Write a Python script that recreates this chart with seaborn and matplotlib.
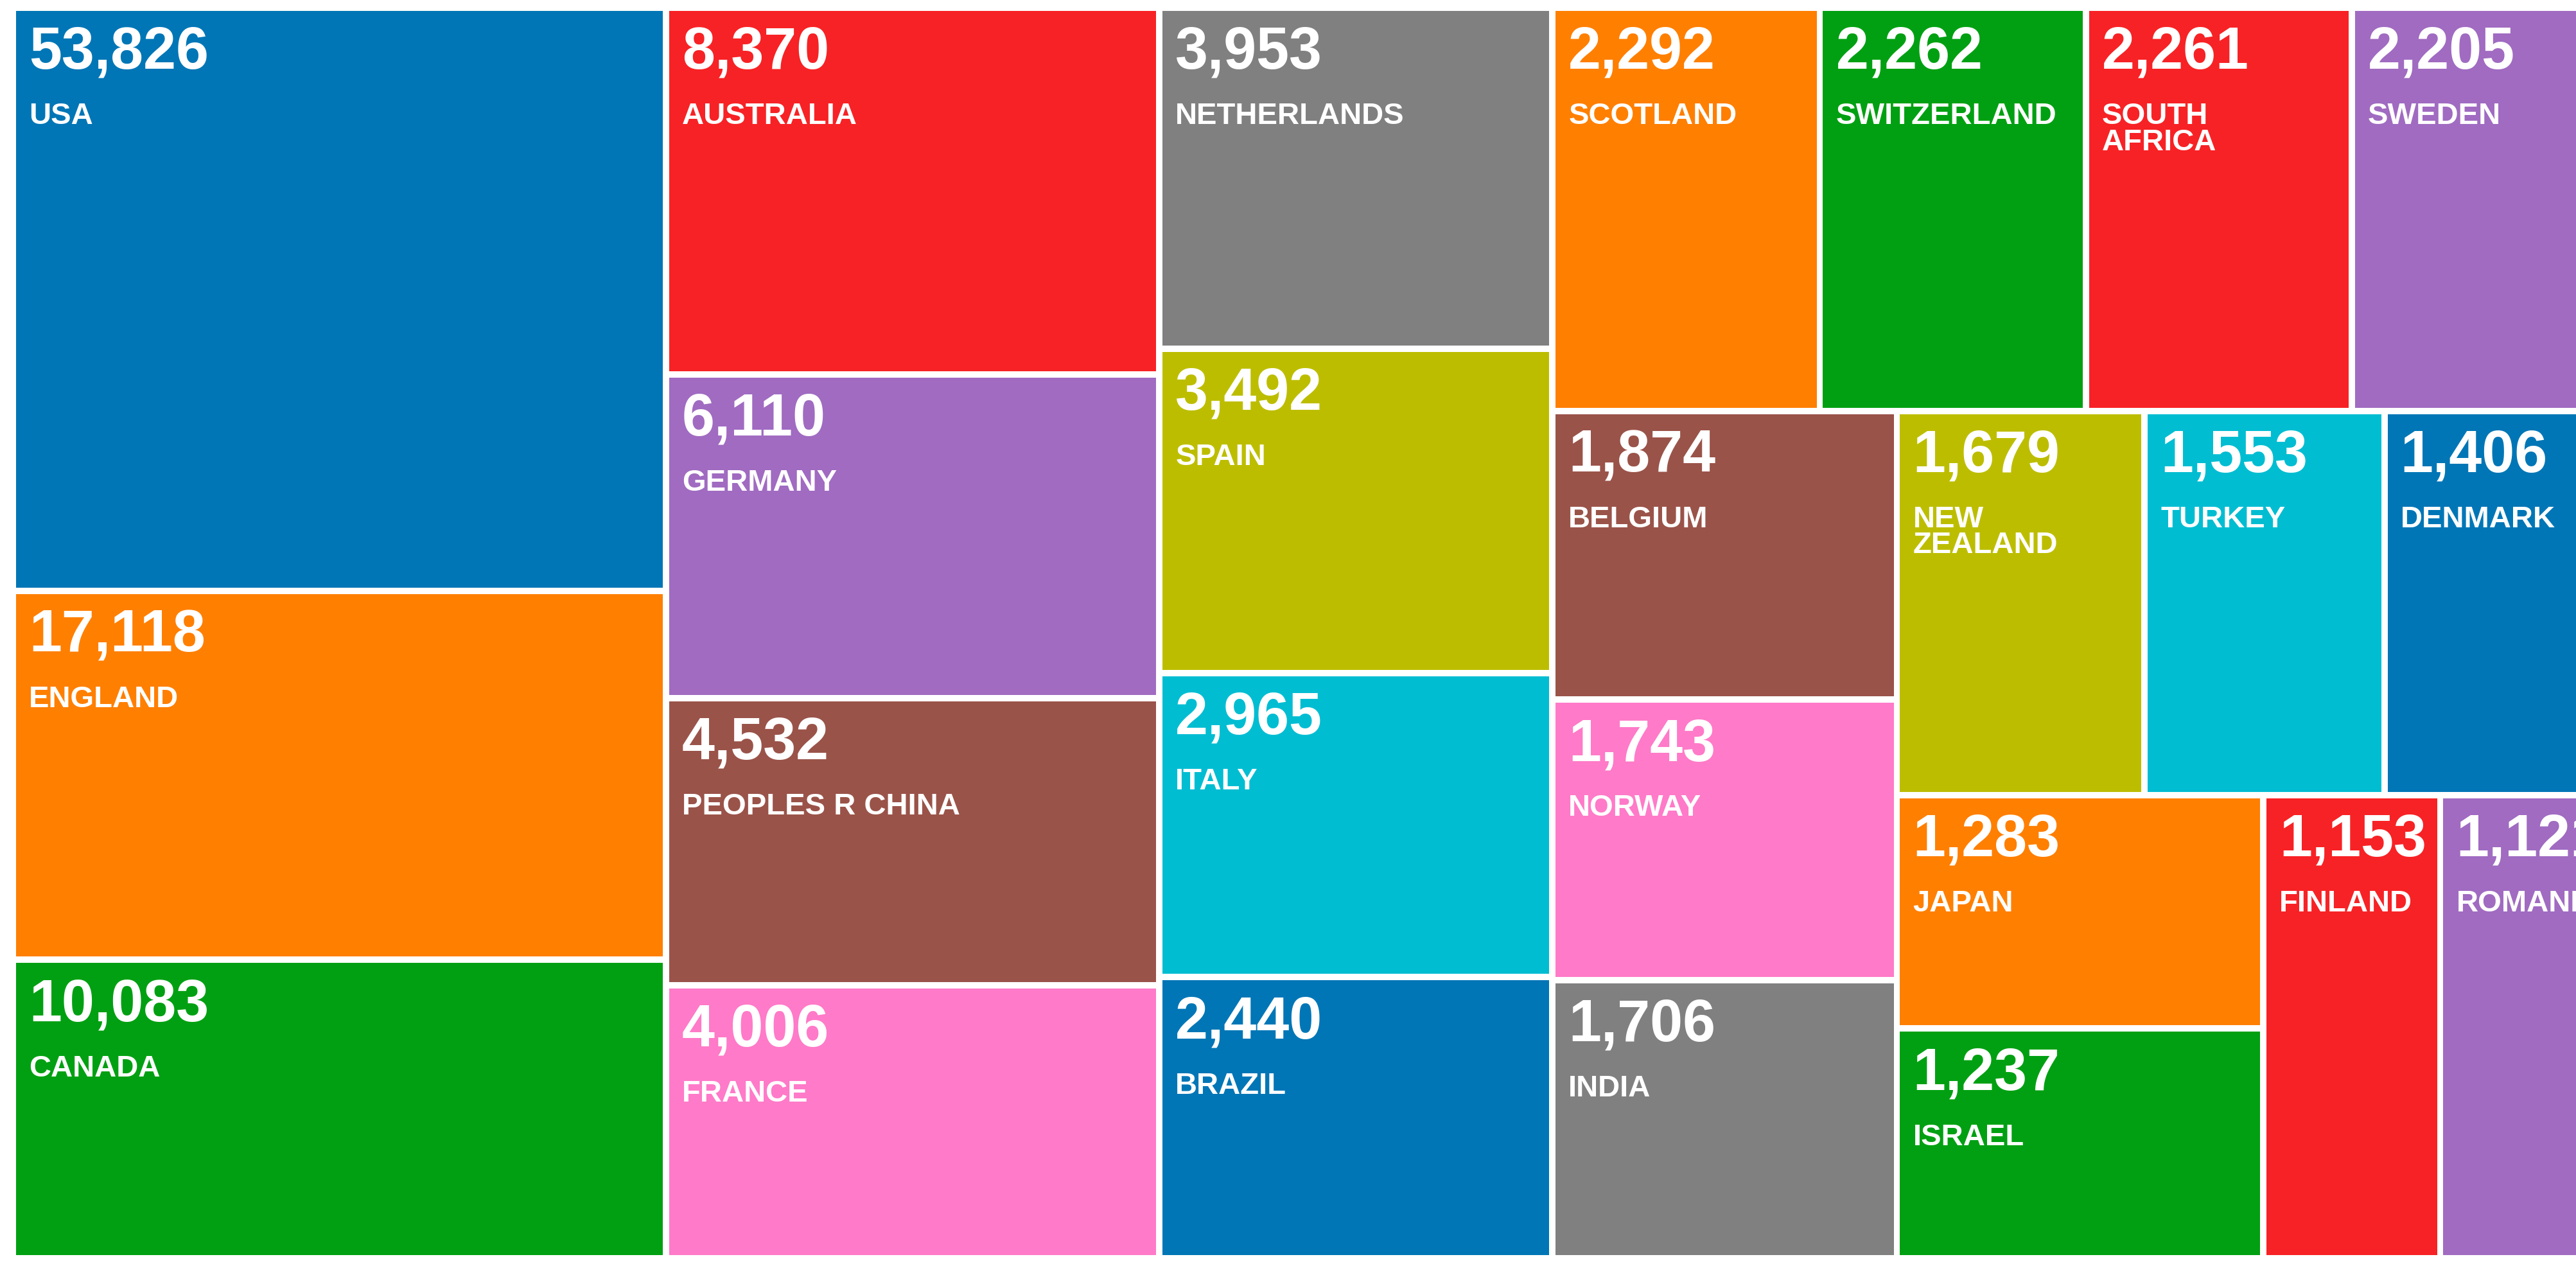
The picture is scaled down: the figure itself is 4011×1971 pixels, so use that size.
import matplotlib
matplotlib.use("Agg")
import matplotlib.pyplot as plt
import matplotlib.patches as mpatches
import seaborn as sns

countries = ["USA", "ENGLAND", "CANADA", "AUSTRALIA", "GERMANY", "PEOPLES R CHINA", "FRANCE",
             "NETHERLANDS", "SPAIN", "ITALY", "BRAZIL", "SCOTLAND", "SWITZERLAND", "SOUTH\nAFRICA",
             "SWEDEN", "BELGIUM", "NORWAY", "INDIA", "NEW\nZEALAND", "TURKEY", "DENMARK", "JAPAN",
             "ISRAEL", "FINLAND", "ROMANIA"]
values = [53826, 17118, 10083, 8370, 6110, 4532, 4006, 3953, 3492, 2965, 2440, 2292, 2262, 2261,
          2205, 1874, 1743, 1706, 1679, 1553, 1406, 1283, 1237, 1153, 1121]
base_colors = ["#0076b6", "#ff7f00", "#00a012", "#f72225", "#a06bc1",
               "#9a5349", "#ff7ac8", "#808080", "#bdbd00", "#00bdd2"]

sns.set_theme(style="white")
plt.rcParams['font.family'] = ['Liberation Sans', 'DejaVu Sans']
palette = sns.color_palette(base_colors)
w = {c: v ** 0.40 for c, v in zip(countries, values)}

C = countries
tree = ('h', [('v', C[0:3]), ('v', C[3:7]), ('v', C[7:11]),
              ('v', [('h', C[11:15]),
                     ('h', [('v', C[15:18]),
                            ('v', [('h', C[18:21]),
                                   ('h', [('v', C[21:23]), C[23], C[24]])])])])])

def weight(n):
    if isinstance(n, str):
        return w[n]
    return sum(weight(k) for k in n[1])

rects = {}
def layout(n, x, y, dx, dy):
    if isinstance(n, str):
        rects[n] = (x, y, dx, dy)
        return
    d, kids = n
    tot = sum(weight(k) for k in kids)
    pos = 0.0
    for k in kids:
        f = weight(k) / tot
        if d == 'h':
            layout(k, x + pos * dx, y, f * dx, dy)
        else:
            layout(k, x, y + pos * dy, dx, f * dy)
        pos += f

layout(tree, 0, 0, 1, 1)

fig = plt.figure(figsize=(20.055, 9.855), dpi=200)
ax = fig.add_axes([0.005, 0.006, 0.995, 0.988])
ax.set_xlim(0, 0.985)
ax.set_ylim(1, 0)
ax.axis('off')
gx, gy = 0.0012, 0.0026
for i, (c, v) in enumerate(zip(countries, values)):
    x, y, dx, dy = rects[c]
    r = mpatches.Rectangle((x + gx, y + gy), dx - 2 * gx, dy - 2 * gy,
                           facecolor=palette[i % 10], edgecolor='none')
    ax.add_patch(r)
    t1 = ax.annotate(f"{v:,}", (x, y), xytext=(9, -10), textcoords='offset points',
                     ha='left', va='top', color='white', fontsize=33, fontweight='bold')
    t2 = ax.annotate(c, (x, y), xytext=(9, -53), textcoords='offset points',
                     ha='left', va='top', color='white', fontsize=17, fontweight='bold',
                     linespacing=0.9)
    t1.set_clip_path(r)
    t2.set_clip_path(r)

fig.savefig("out.png", dpi=200, facecolor='white')
